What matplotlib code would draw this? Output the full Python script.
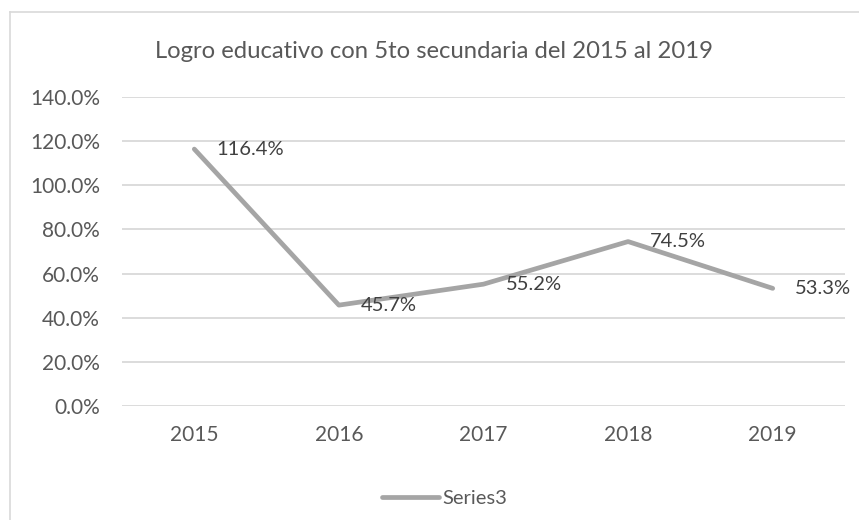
import numpy as np
import matplotlib.pyplot as plt
from matplotlib.ticker import PercentFormatter
from matplotlib.lines import Line2D

# chart data
years = ['2015', '2016', '2017', '2018', '2019']
logro = [1.164, 0.457, 0.552, 0.745, 0.533]
series_name = 'Series3'
title = 'Logro educativo con 5to secundaria del 2015 al 2019'

line_color = '#A5A5A5'
text_color = '#595959'
grid_color = '#D9D9D9'

plt.rcParams['font.family'] = ['Lato', 'DejaVu Sans']

W, H = 859, 520
fig = plt.figure(figsize=(W / 100, H / 100), dpi=100)
ax = fig.add_axes([122 / W, 1 - 406 / H, (845 - 122) / W, (406 - 97) / H])

x = np.arange(len(years))
ax.plot(x, logro, color=line_color, linewidth=3.4, solid_capstyle='round',
        solid_joinstyle='round', label=series_name, zorder=3)

# data labels to the right of each point
for xi, v in zip(x, logro):
    ax.annotate(f'{v * 100:.1f}%', (xi, v), xytext=(16, 0), textcoords='offset points',
                ha='left', va='center', fontsize=14.5, color='#404040', zorder=4)

ax.set_xlim(-0.5, len(years) - 0.5)
ax.set_ylim(0, 1.4)
ax.set_yticks(np.arange(0, 1.41, 0.2))
ax.yaxis.set_major_formatter(PercentFormatter(1, decimals=1))
ax.set_xticks(x)
ax.set_xticklabels(years)

ax.grid(axis='y', color=grid_color, linewidth=1.3)
ax.set_axisbelow(True)
for s in ax.spines.values():
    s.set_visible(False)
ax.tick_params(axis='both', length=0, labelsize=15, colors=text_color)
ax.tick_params(axis='y', pad=16)
ax.tick_params(axis='x', pad=14)

fig.text(434 / W, 1 - 51 / H, title, ha='center', va='center', fontsize=17.2, color=text_color)

fig.legend(handles=[Line2D([], [], color=line_color, linewidth=3.4, solid_capstyle='round')],
           labels=[series_name], loc='center', bbox_to_anchor=(445 / W, 1 - 498 / H),
           frameon=False, fontsize=14.5, handlelength=2.8, handletextpad=0.2,
           labelcolor=text_color)

# chart area border (only left and top edges fall inside the picture)
fig.add_artist(Line2D([10 / W, 10 / W], [0, 1 - 12 / H], color=grid_color, linewidth=1.2))
fig.add_artist(Line2D([10 / W, 1], [1 - 12 / H, 1 - 12 / H], color=grid_color, linewidth=1.2))

fig.savefig('out.png', dpi=100)
